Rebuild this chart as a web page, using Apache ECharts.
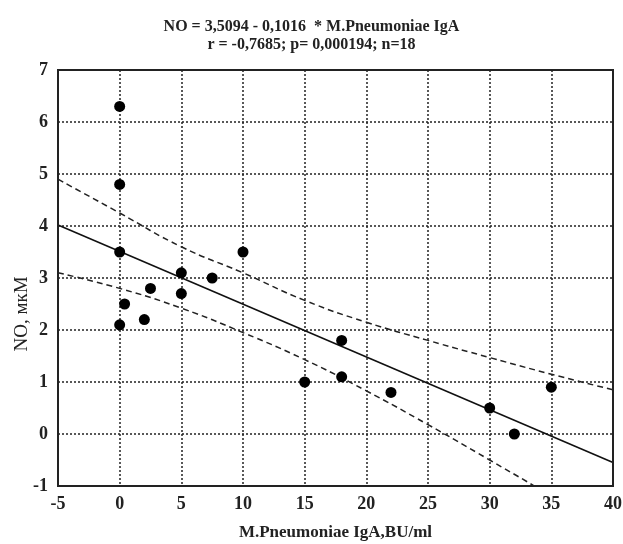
<!DOCTYPE html>
<html lang="en">
<head>
  <meta charset="UTF-8">
  <title>NO vs M.Pneumoniae IgA</title>
  <style>
    html, body { margin: 0; padding: 0; background: #fff; }
    #chart { width: 623px; height: 544px; }
  </style>
</head>
<body>
<div id="chart"></div>
<script src="https://cdn.jsdelivr.net/npm/echarts@6/dist/echarts.min.js"></script>
<script>
  // observed points (IgA, NO)
  const igA = [0, 0, 0, 0, 0.4, 2, 2.5, 5, 5, 7.5, 10, 15, 18, 18, 22, 30, 32, 35];
  const no  = [6.3, 4.8, 3.5, 2.1, 2.5, 2.2, 2.8, 3.1, 2.7, 3.0, 3.5, 1.0, 1.8, 1.1, 0.8, 0.5, 0.0, 0.9];

  // regression line end points
  const fitX = [-5, 40];
  const fitY = [4.02, -0.55];

  // confidence band
  const bandX = [-5, 0, 5, 10, 15, 20, 25, 30, 35, 40];
  const bandUpper = [4.9, 4.25, 3.6, 3.1, 2.57, 2.15, 1.8, 1.47, 1.15, 0.85];
  const bandLower = [3.1, 2.8, 2.42, 1.95, 1.43, 0.83, 0.18, -0.5, -1.2, -1.95];

  const zip = (a, b) => a.map((v, i) => [v, b[i]]);
  const serif = '"Liberation Serif", "DejaVu Serif", serif';

  const chart = echarts.init(document.getElementById('chart'));
  chart.setOption({
    animation: false,
    title: {
      text: 'NO = 3,5094 - 0,1016  * M.Pneumoniae IgA\nr = -0,7685; p= 0,000194; n=18',
      left: 'center',
      top: 13,
      textStyle: { fontFamily: serif, fontWeight: 'bold', fontSize: 16, color: '#222', lineHeight: 18 }
    },
    grid: { left: 58, right: 10, top: 70, bottom: 58, outerBoundsMode: 'none' },
    xAxis: {
      type: 'value', min: -5, max: 40, interval: 5,
      name: 'M.Pneumoniae IgA,BU/ml', nameLocation: 'middle', nameGap: 38,
      nameTextStyle: { fontFamily: serif, fontWeight: 'bold', fontSize: 17, color: '#222' },
      axisLine: { show: true, onZero: false, lineStyle: { color: '#222', width: 2 } },
      axisTick: { show: false },
      axisLabel: { fontFamily: serif, fontWeight: 'bold', fontSize: 18, color: '#222', margin: 9 },
      splitLine: { show: true, lineStyle: { color: '#222', type: [2, 2], width: 1.5 } }
    },
    yAxis: {
      type: 'value', min: -1, max: 7, interval: 1,
      axisLine: { show: true, onZero: false, lineStyle: { color: '#222', width: 2 } },
      axisTick: { show: false },
      axisLabel: { fontFamily: serif, fontWeight: 'bold', fontSize: 18, color: '#222', margin: 10 },
      splitLine: { show: true, lineStyle: { color: '#222', type: [2, 2], width: 1.5 } }
    },
    series: [
      {
        type: 'line', data: zip(bandX, bandUpper), smooth: true, symbol: 'none',
        lineStyle: { color: '#222', width: 1.5, type: [6, 4] }, z: 3
      },
      {
        type: 'line', data: zip(bandX, bandLower), smooth: true, symbol: 'none',
        lineStyle: { color: '#222', width: 1.5, type: [6, 4] }, z: 3
      },
      {
        type: 'line', data: zip(fitX, fitY), symbol: 'none',
        lineStyle: { color: '#111', width: 1.6 }, z: 4
      },
      {
        type: 'scatter', data: zip(igA, no), symbol: 'circle', symbolSize: 11,
        itemStyle: { color: '#000', opacity: 1 }, z: 5
      }
    ],
    graphic: [
      {
        type: 'rect', shape: { x: 58, y: 70, width: 555, height: 416 },
        style: { fill: 'none', stroke: '#222', lineWidth: 2 }, silent: true, z: 10
      },
      {
        // y axis title, sits a bit below the middle in the original
        type: 'text', x: 22, y: 314, rotation: Math.PI / 2,
        style: {
          text: 'NO, мкМ', fontFamily: serif, fontSize: 19, fill: '#222',
          align: 'center', verticalAlign: 'middle'
        }
      }
    ]
  });
</script>
</body>
</html>
